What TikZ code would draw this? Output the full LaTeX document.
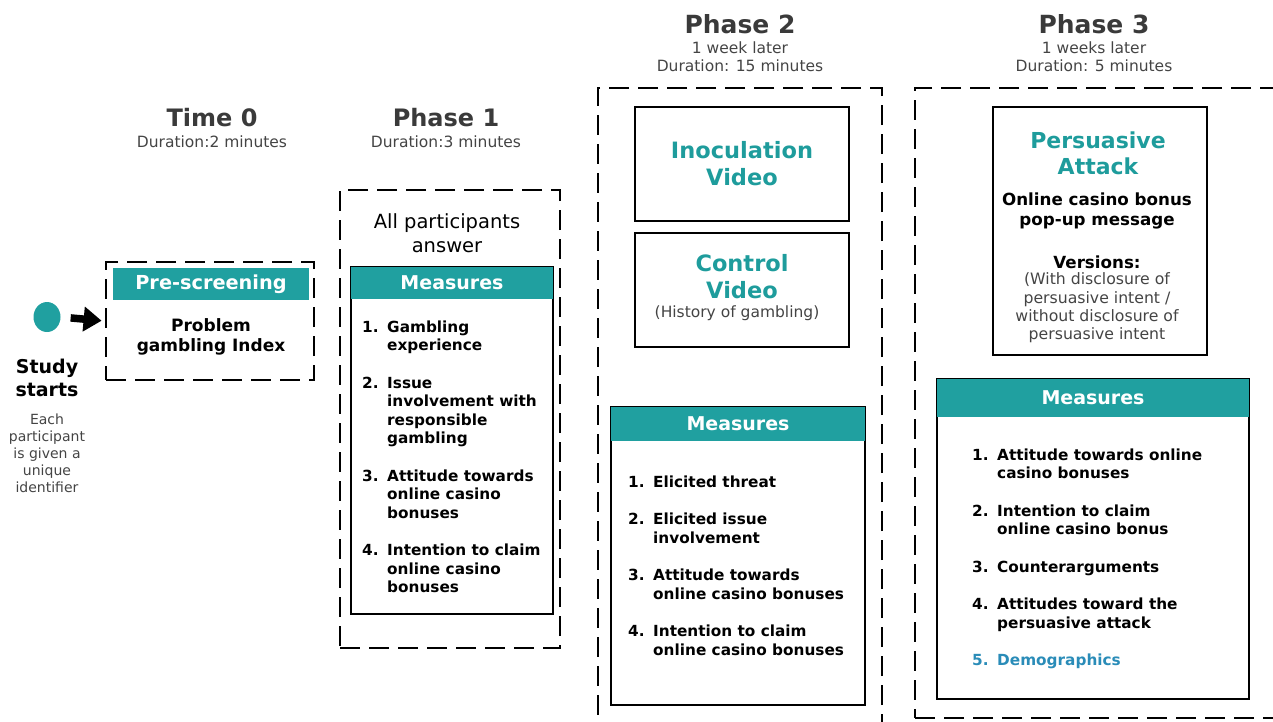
\documentclass[tikz,border=0pt]{standalone}
\usepackage{fontspec}
\setmainfont{DejaVu Sans}
\usetikzlibrary{arrows.meta,shapes.geometric}
\definecolor{teal1}{HTML}{20A0A0}
\definecolor{tealtxt}{HTML}{1E9C9C}
\definecolor{ttl}{HTML}{3A3A3A}
\definecolor{sub}{HTML}{444444}
\definecolor{demo}{HTML}{2A8CB8}
\newcommand\itmnum[1]{\makebox[25pt][l]{#1}}
\newcommand\fs[2]{\fontsize{#1}{#2}\selectfont}
\begin{document}
\begin{tikzpicture}[x=1pt,y=-1pt,
  dbox/.style={draw, line width=2.8pt, dash pattern=on 20pt off 9pt, inner sep=0pt},
  sbox/.style={draw, line width=2.4pt, inner sep=0pt},
  hdr/.style={fill=teal1, inner sep=0pt, text=white, font=\fs{19}{22}\bfseries},
  title/.style={text=ttl, font=\fs{25}{30}\bfseries, inner sep=0pt},
  subt/.style={text=sub, font=\fs{15.5}{18}, align=center, inner sep=0pt},
  itm/.style={font=\fs{15.3}{18.5}\bfseries, inner sep=0pt, anchor=north west},
  tl/.style={text=tealtxt, font=\fs{22.5}{27}\bfseries, align=center, inner sep=0pt}
]
\useasboundingbox (0,0) rectangle (1273,721);
% Start
\node[fill=teal1, ellipse, minimum width=27pt, minimum height=30pt, inner sep=0pt] (dot) at (47,317) {};
\node[font=\fs{19}{23}\bfseries, align=center, inner sep=0pt] (start) at (47,377.5) {Study\\starts};
\node[font=\fs{14}{17}, text=sub, align=center, inner sep=0pt] (startsub) at (47,453) {Each\\participant\\is given a\\unique\\identifier};
% Time 0
\node[title, font=\fs{24}{28}\bfseries] (t0) at (212,118) {Time 0};
\node[subt] (t0s) at (212,142) {Duration:2 minutes};
\node[dbox, minimum width=208pt, minimum height=118pt] (pre) at (210,321) {};
\node[hdr, minimum width=196pt, minimum height=32pt, font=\fs{19.3}{22}\bfseries] (preh) at (211,284) {Pre-screening};
\node[font=\fs{17}{20}\bfseries, align=center, inner sep=0pt] (pret) at (211,337) {Problem\\gambling Index};
\draw[line width=7.5pt, -{Triangle[length=18pt,width=24pt]}, shorten <=10pt, shorten >=3pt] (dot.east) -- (pre.west);
% Phase 1
\node[title, font=\fs{24}{28}\bfseries] (p1) at (446,118) {Phase 1};
\node[subt] (p1s) at (446,142) {Duration:3 minutes};
\node[dbox, minimum width=220pt, minimum height=458pt] (p1d) at (450,419) {};
\node[font=\fs{19.5}{24}, align=center, inner sep=0pt] (p1all) at (447,233) {All participants\\answer};
\node[sbox, minimum width=202pt, minimum height=347pt] (p1b) at (452,440.5) {};
\node[hdr, minimum width=202pt, minimum height=32pt] (p1h) at (452,283) {Measures};
\node[itm] (p1l) at (362,319) {\begin{tabular}{@{}l@{}l@{}}
\itmnum{1.}&Gambling\\&experience\\[19pt]
\itmnum{2.}&Issue\\&involvement with\\&responsible\\&gambling\\[19pt]
\itmnum{3.}&Attitude towards\\&online casino\\&bonuses\\[19pt]
\itmnum{4.}&Intention to claim\\&online casino\\&bonuses
\end{tabular}};
% Phase 2
\node[title] (p2) at (740,24) {Phase 2};
\node[subt] (p2s) at (740,57) {1 week later\\Duration: 15 minutes};
\node[dbox, minimum width=284pt, minimum height=652pt] (p2d) at (740,414) {};
\node[sbox, minimum width=214pt, minimum height=114pt, tl] (inoc) at (742,164) {Inoculation\\Video};
\node[sbox, minimum width=214pt, minimum height=114pt] (ctrl) at (742,290) {};
\node[tl] (ctrlt) at (742,277) {Control\\Video};
\node[subt] (ctrls) at (737,313) {(History of gambling)};
\node[sbox, minimum width=254pt, minimum height=298pt] (p2b) at (738,556) {};
\node[hdr, minimum width=254pt, minimum height=34pt] (p2h) at (738,424) {Measures};
\node[itm] (p2l) at (628,474) {\begin{tabular}{@{}l@{}l@{}}
\itmnum{1.}&Elicited threat\\[19pt]
\itmnum{2.}&Elicited issue\\&involvement\\[19pt]
\itmnum{3.}&Attitude towards\\&online casino bonuses\\[19pt]
\itmnum{4.}&Intention to claim\\&online casino bonuses
\end{tabular}};
% Phase 3
\node[title] (p3) at (1094,24) {Phase 3};
\node[subt] (p3s) at (1094,57) {1 weeks later\\Duration: 5 minutes};
\node[dbox, minimum width=375pt, minimum height=630pt] (p3d) at (1102.5,403) {};
\node[sbox, minimum width=214pt, minimum height=248pt] (pers) at (1100,231) {};
\node[tl, font=\fs{22}{26}\bfseries] (perst) at (1098,153) {Persuasive\\Attack};
\node[font=\fs{16.7}{20}\bfseries, align=center, inner sep=0pt] (perso) at (1097,211) {Online casino bonus\\pop-up message};
\node[font=\fs{16.7}{20}\bfseries, inner sep=0pt] (persv) at (1097,262) {Versions:};
\node[subt, font=\fs{15.7}{18.3}] (persw) at (1097,308) {(With disclosure of\\persuasive intent /\\without disclosure of\\persuasive intent};
\node[sbox, minimum width=312pt, minimum height=320pt] (p3b) at (1093,539) {};
\node[hdr, minimum width=312pt, minimum height=38pt] (p3h) at (1093,398) {Measures};
\node[itm] (p3l) at (972,447) {\begin{tabular}{@{}l@{}l@{}}
\itmnum{1.}&Attitude towards online\\&casino bonuses\\[19pt]
\itmnum{2.}&Intention to claim\\&online casino bonus\\[19pt]
\itmnum{3.}&Counterarguments\\[19pt]
\itmnum{4.}&Attitudes toward the\\&persuasive attack\\[19pt]
\textcolor{demo}{\itmnum{5.}}&\textcolor{demo}{Demographics}
\end{tabular}};
\end{tikzpicture}
\end{document}
